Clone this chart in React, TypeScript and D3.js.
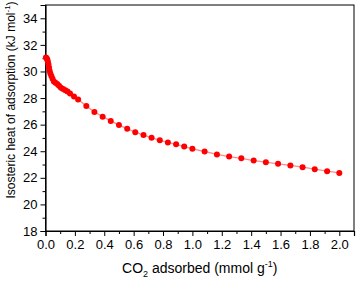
import React, { useEffect, useRef } from 'react';
import * as d3 from 'd3';

// CO2 loading (mmol/g) and isosteric heat (kJ/mol)
const loading = [
  0.003, 0.008, 0.012, 0.016, 0.02, 0.024, 0.028, 0.033, 0.04, 0.048,
  0.057, 0.068, 0.08, 0.092, 0.105, 0.12, 0.135, 0.15, 0.167, 0.194,
  0.222, 0.278, 0.333, 0.389, 0.444, 0.5, 0.556, 0.611, 0.667, 0.722,
  0.778, 0.833, 0.889, 0.944, 1.0, 1.083, 1.167, 1.25, 1.333, 1.417,
  1.5, 1.583, 1.667, 1.75, 1.833, 1.917, 2.0,
];
const qst = [
  31.05, 31.0, 30.9, 30.75, 30.55, 30.3, 30.05, 29.85, 29.65, 29.45,
  29.25, 29.15, 29.05, 28.92, 28.78, 28.68, 28.58, 28.5, 28.35, 28.12,
  27.9, 27.4, 26.95, 26.6, 26.28, 25.97, 25.7, 25.43, 25.22, 25.02,
  24.82, 24.66, 24.52, 24.35, 24.18, 23.98, 23.76, 23.6, 23.47, 23.3,
  23.18, 23.05, 22.93, 22.8, 22.65, 22.5, 22.37,
];
const xTicks = [0, 0.2, 0.4, 0.6, 0.8, 1.0, 1.2, 1.4, 1.6, 1.8, 2.0];
const yTicks = [18, 20, 22, 24, 26, 28, 30, 32, 34];

export default function App() {
  const svgRef = useRef<SVGSVGElement | null>(null);

  useEffect(() => {
    if (!svgRef.current) return;
    const svg = d3.select(svgRef.current);
    svg.selectAll('*').remove();

    const width = 356;
    const height = 281;
    const margin = { top: 5, right: 2, bottom: 50, left: 45.5 };
    const innerWidth = width - margin.left - margin.right;
    const innerHeight = height - margin.top - margin.bottom;
    const font = 'Arial, "Liberation Sans", sans-serif';

    const x = d3.scaleLinear().domain([0, 2.1]).range([0, innerWidth]);
    const y = d3.scaleLinear().domain([18, 35]).range([innerHeight, 0]);

    const g = svg.append('g')
      .attr('transform', `translate(${margin.left},${margin.top})`);

    // frame
    g.append('rect')
      .attr('width', innerWidth)
      .attr('height', innerHeight)
      .attr('fill', 'none')
      .attr('stroke', '#000')
      .attr('stroke-width', 1);

    // minor ticks
    const xMinor = d3.range(0.1, 2.1, 0.2);
    g.append('g')
      .attr('transform', `translate(0,${innerHeight})`)
      .call(d3.axisBottom(x).tickValues(xMinor).tickSize(3).tickFormat(() => ''))
      .call(a => a.select('.domain').remove());
    const yMinor = d3.range(19, 35, 2);
    g.append('g')
      .call(d3.axisLeft(y).tickValues(yMinor).tickSize(3).tickFormat(() => ''))
      .call(a => a.select('.domain').remove());

    // major ticks
    const xAxis = g.append('g')
      .attr('transform', `translate(0,${innerHeight})`)
      .call(d3.axisBottom(x).tickValues(xTicks).tickSize(5).tickPadding(4)
        .tickFormat(d => (d as number).toFixed(1)));
    xAxis.select('.domain').attr('stroke-width', 1.2);
    xAxis.selectAll('text').attr('font-size', 13).attr('font-family', font).attr('fill', '#000');

    const yAxis = g.append('g')
      .call(d3.axisLeft(y).tickValues(yTicks).tickSize(5).tickPadding(3)
        .tickFormat(d => String(d)));
    yAxis.select('.domain').attr('stroke-width', 1.2);
    yAxis.selectAll('text').attr('font-size', 13).attr('font-family', font).attr('fill', '#000');

    const data = loading.map((v, i) => ({ x: v, y: qst[i] }));

    const line = d3.line<{ x: number; y: number }>()
      .x(d => x(d.x))
      .y(d => y(d.y));

    g.append('path')
      .datum(data)
      .attr('d', line)
      .attr('fill', 'none')
      .attr('stroke', '#ff8a8a')
      .attr('stroke-width', 1.3);

    g.selectAll('.pt')
      .data(data)
      .enter().append('circle')
      .attr('class', 'pt')
      .attr('cx', d => x(d.x))
      .attr('cy', d => y(d.y))
      .attr('r', 3)
      .attr('fill', '#ff0000');

    // axis titles
    const xt = svg.append('text')
      .attr('x', margin.left + innerWidth / 2)
      .attr('y', 273)
      .attr('text-anchor', 'middle')
      .attr('font-size', 14)
      .attr('font-family', font)
      .attr('fill', '#000');
    xt.append('tspan').text('CO');
    xt.append('tspan').attr('font-size', 9).attr('dy', 4).text('2');
    xt.append('tspan').attr('dy', -4).text(' adsorbed (mmol g');
    xt.append('tspan').attr('font-size', 9).attr('dy', -6).text('-1');
    xt.append('tspan').attr('dy', 6).text(')');

    const yt = svg.append('text')
      .attr('transform', `translate(15,100) rotate(-90)`)
      .attr('text-anchor', 'middle')
      .attr('font-size', 12)
      .attr('font-family', font)
      .attr('fill', '#000');
    yt.append('tspan').text('Isosteric heat of adsorption (kJ mol');
    yt.append('tspan').attr('font-size', 8).attr('dy', -5).text('-1');
    yt.append('tspan').attr('dy', 5).text(')');
  }, []);

  return (
    <svg
      ref={svgRef}
      width={356}
      height={281}
      style={{ position: 'absolute', left: 0, top: 0, background: '#fff' }}
    />
  );
}
